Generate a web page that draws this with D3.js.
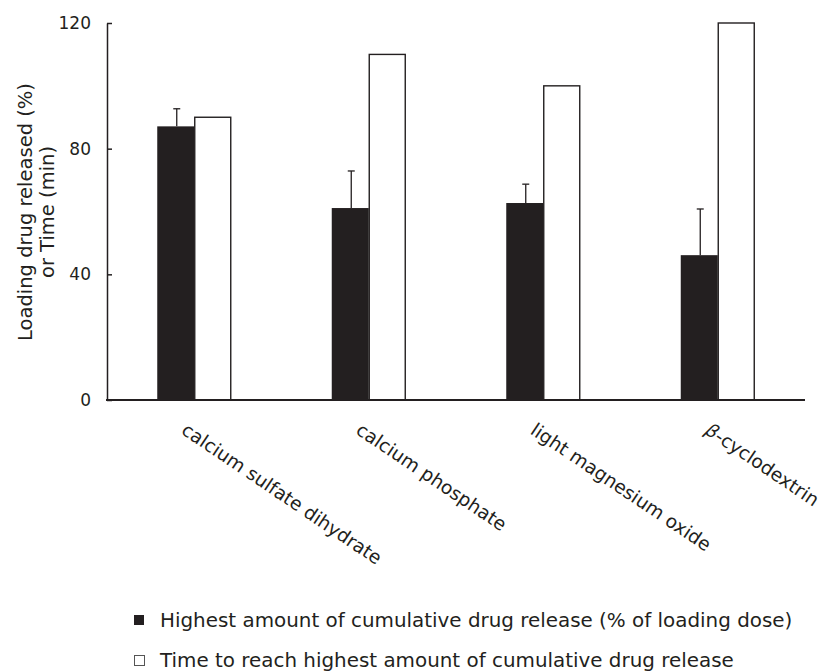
<!DOCTYPE html>
<html>
<head>
<meta charset="utf-8">
<script src="https://cdn.jsdelivr.net/npm/d3@7"></script>
<style>
  body { margin: 0; background: #fff; }
  svg text { font-family: "DejaVu Sans", sans-serif; fill: #231f20; }
</style>
</head>
<body>
<script>
// values
let categories = ["calcium sulfate dihydrate", "calcium phosphate", "light magnesium oxide", "β-cyclodextrin"];
let series = ["released", "time"];
let released = [87.1, 61.1, 62.7, 46.1];      // % of loading dose
let releasedErr = [5.6, 11.8, 6.0, 14.7];      // upper error only
let timeToMax = [90, 110, 100, 120];           // min
let yTicks = [0, 40, 80, 120];
let legendLabels = [
  "Highest amount of cumulative drug release (% of loading dose)",
  "Time to reach highest amount of cumulative drug release"
];

let ink = "#231f20";
let font = "'DejaVu Sans', sans-serif";
let width = 832, height = 671;

let svg = d3.select("body").append("svg")
            .attr("width", width)
            .attr("height", height);

let y = d3.scaleLinear().domain([0, 120]).range([400, 23]);
let x0 = d3.scaleBand().domain(categories).range([106, 804]);
let x1 = d3.scaleBand().domain(series)
           .range([x0.bandwidth() / 2 - 36, x0.bandwidth() / 2 + 38]);

let rows = categories.map((c, i) => ({
  cat: c, released: released[i], err: releasedErr[i], time: timeToMax[i]
}));

// bars
let g = svg.selectAll("g.grp").data(rows).enter().append("g")
           .attr("class", "grp")
           .attr("transform", d => "translate(" + x0(d.cat) + ",0)");

g.append("rect")
 .attr("x", x1("released"))
 .attr("y", d => y(d.released))
 .attr("width", x1.bandwidth())
 .attr("height", d => y(0) - y(d.released))
 .attr("fill", ink);

g.append("rect")
 .attr("x", x1("time") + 0.5)
 .attr("y", d => y(d.time))
 .attr("width", x1.bandwidth() - 1)
 .attr("height", d => y(0) - y(d.time))
 .attr("fill", "#fff")
 .attr("stroke", ink)
 .attr("stroke-width", 1.4);

// error bars (upper only)
let cx = x1("released") + x1.bandwidth() / 2 + 1;
g.append("line")
 .attr("x1", cx).attr("x2", cx)
 .attr("y1", d => y(d.released))
 .attr("y2", d => y(d.released + d.err))
 .attr("stroke", ink).attr("stroke-width", 1.3);
g.append("line")
 .attr("x1", cx - 3.5).attr("x2", cx + 3.5)
 .attr("y1", d => y(d.released + d.err))
 .attr("y2", d => y(d.released + d.err))
 .attr("stroke", ink).attr("stroke-width", 1.3);

// y axis, ticks pointing inward
let yAxis = svg.append("g")
  .attr("transform", "translate(107,0)")
  .call(d3.axisLeft(y).tickValues(yTicks).tickSizeInner(-5).tickSizeOuter(0).tickPadding(16));
yAxis.selectAll("path, line").attr("stroke", ink).attr("stroke-width", 1.5);
yAxis.selectAll("text").attr("font-size", 17).style("font-family", font).attr("fill", ink);

// x axis line
svg.append("line")
   .attr("x1", 106).attr("x2", 805)
   .attr("y1", y(0)).attr("y2", y(0))
   .attr("stroke", ink).attr("stroke-width", 2);

// rotated category labels
let lab = svg.selectAll("text.cat").data(categories).enter().append("text")
  .attr("class", "cat")
  .attr("font-size", 18.6)
  .attr("transform", d => "translate(" + (x0(d) + x0.bandwidth() / 2 - 13) + ",433) rotate(34)");
lab.each(function(d) {
  let t = d3.select(this);
  if (d.startsWith("β")) {
    t.append("tspan").attr("font-style", "italic").text("β");
    t.append("tspan").text(d.slice(1));
  } else {
    t.text(d);
  }
});

// y title
let yt = svg.append("text")
  .attr("font-size", 19.5)
  .attr("text-anchor", "middle")
  .attr("transform", "translate(32,212) rotate(-90)");
yt.append("tspan").attr("x", 0).attr("y", 0).text("Loading drug released (%)");
yt.append("tspan").attr("x", 0).attr("y", 22).text("or Time (min)");

// legend
let lg = svg.selectAll("g.leg").data(legendLabels).enter().append("g")
  .attr("class", "leg")
  .attr("transform", (d, i) => "translate(134," + (615 + i * 40) + ")");
lg.append("rect")
  .attr("x", (d, i) => i ? 0.5 : 0).attr("y", (d, i) => i ? 0.5 : 0)
  .attr("width", 10).attr("height", 10)
  .attr("fill", (d, i) => i ? "#fff" : ink)
  .attr("stroke", (d, i) => i ? "#555" : "none")
  .attr("stroke-width", 1);
lg.append("text")
  .attr("x", 26).attr("y", 12)
  .attr("font-size", 19.9)
  .text(d => d);
</script>
</body>
</html>
